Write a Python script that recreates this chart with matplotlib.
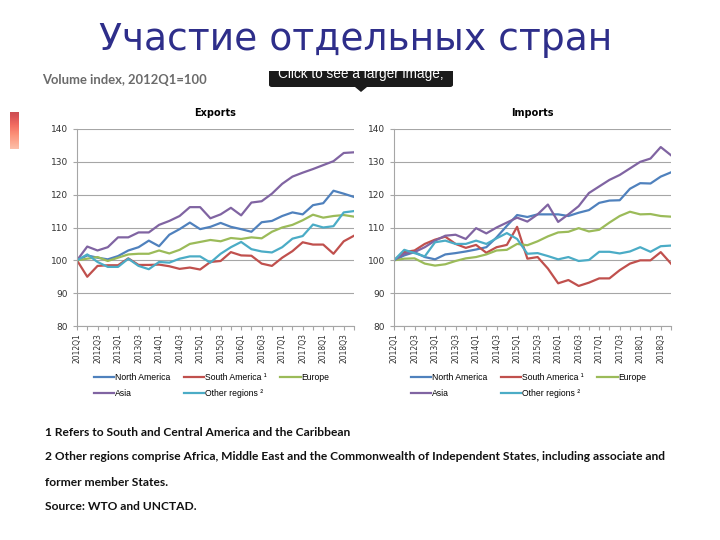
import numpy as np
import matplotlib.pyplot as plt
from matplotlib.patches import FancyBboxPatch, Polygon, Rectangle

# quarters 2012Q1 .. 2018Q4
quarters = [f"{y}Q{q}" for y in range(2012, 2019) for q in range(1, 5)]

regions = ["North America", "South America \u00b9", "Europe", "Asia", "Other regions \u00b2"]
colors = ["#4f81bd", "#c0504d", "#9bbb59", "#8064a2", "#4bacc6"]

# Exports
exp_na = [100, 101.5, 100.8, 100.3, 101.3, 103, 104, 106, 104.3, 107.8, 109.5, 111.5, 109.5, 110.2,
          111.4, 110.2, 109.5, 108.7, 111.6, 112, 113.5, 114.6, 114, 116.8, 117.4, 121.2, 120.3, 119.3]
exp_sa = [100, 95, 98.3, 98.5, 98.5, 100.6, 98.6, 98.6, 98.7, 98.2, 97.4, 97.8, 97.2, 99.5,
          99.8, 102.5, 101.5, 101.4, 99, 98.3, 100.8, 102.8, 105.5, 104.8, 104.8, 102, 105.8, 107.5]
exp_eu = [100, 100.5, 101, 99.8, 100.8, 101.8, 102, 102, 103, 102.1, 103.2, 105, 105.6, 106.2,
          105.8, 106.8, 106.5, 107, 106.7, 108.7, 110, 110.8, 112.2, 113.9, 113, 113.5, 113.8, 113.3]
exp_as = [100, 104.2, 103, 104, 107, 107, 108.5, 108.5, 110.8, 112, 113.5, 116.2, 116.2, 112.8,
          114, 116, 113.7, 117.6, 118, 120.3, 123.3, 125.5, 126.7, 127.8, 129, 130.2, 132.7, 132.9]
exp_ot = [100, 101.8, 99.5, 98, 98, 100.5, 98.3, 97.3, 99.5, 99.3, 100.5, 101.2, 101.2, 99.3,
          102, 104, 105.6, 103.4, 102.7, 102.4, 104, 106.6, 107.4, 110.9, 110, 110.4, 114.6, 115]

# Imports
imp_na = [100, 101.5, 102.5, 101, 100.3, 101.8, 102.2, 102.7, 103.3, 104, 107, 110.5, 113.8, 113.2,
          114, 114, 114, 113.5, 114.5, 115.3, 117.5, 118.2, 118.3, 121.8, 123.5, 123.4, 125.5, 126.8]
imp_sa = [100, 102.5, 103, 105, 106.3, 107.2, 105, 103.8, 104.7, 102.3, 104, 104.7, 110.2, 100.5,
          101, 97.5, 93, 94, 92.2, 93.2, 94.5, 94.5, 97, 99, 100, 100, 102.5, 99]
imp_eu = [100, 100.5, 100.6, 99, 98.4, 98.8, 99.8, 100.6, 101, 101.8, 103, 103.2, 105, 104.6,
          105.8, 107.3, 108.5, 108.7, 109.8, 108.8, 109.3, 111.5, 113.5, 114.8, 114, 114.1, 113.5, 113.3]
imp_as = [100, 102, 102.5, 104, 106, 107.5, 107.8, 106.5, 109.8, 108.2, 110, 111.5, 113, 111.8,
          114, 117, 111.7, 114, 116.5, 120.5, 122.5, 124.5, 126, 128, 130, 131, 134.5, 132]
imp_ot = [100, 103.2, 102.2, 101.2, 105.5, 106, 105, 105, 106, 105, 106.7, 108.3, 106.5, 102,
          102.2, 101.3, 100.3, 101, 99.8, 100.1, 102.6, 102.6, 102.1, 102.7, 104, 102.6, 104.3, 104.5]

exports = [exp_na, exp_sa, exp_eu, exp_as, exp_ot]
imports = [imp_na, imp_sa, imp_eu, imp_as, imp_ot]

fig = plt.figure(figsize=(7.2, 5.4), dpi=100)

fig.text(0.494, 0.926, "Участие отдельных стран", ha="center", va="center",
         fontsize=27.1, color="#2e2e8a", family="DejaVu Sans", zorder=5)
fig.text(0.058, 0.852, "Volume index, 2012Q1=100", ha="left", va="center",
         fontsize=9.4, color="#6b6b6b", weight="bold", family="Lato")

# tooltip box (top part hidden, as in the screenshot)
fig.patches.append(FancyBboxPatch((269 / 720, 1 - 87 / 540), 184 / 720, 19 / 540,
                                  boxstyle="round,pad=0,rounding_size=0.004",
                                  transform=fig.transFigure, fc="#1b1b1b", ec="none"))
fig.patches.append(Polygon([(355 / 720, 1 - 87 / 540), (367 / 720, 1 - 87 / 540), (361 / 720, 1 - 92 / 540)],
                           closed=True, transform=fig.transFigure, fc="#1b1b1b", ec="none"))
fig.text(361 / 720, 1 - 78 / 540, "Click to see a larger image;", ha="center", va="baseline",
         fontsize=9.8, color="white", family="Liberation Sans", zorder=3)
fig.patches.append(Rectangle((265 / 720, 1 - 70.5 / 540), 195 / 720, 10 / 540,
                             transform=fig.transFigure, fc="white", ec="none", zorder=4))

# faded red mark on the left
gax = fig.add_axes([10 / 720, 1 - 149 / 540, 9 / 720, 37 / 540])
grad = np.linspace(1, 0, 50).reshape(-1, 1)
gax.imshow(grad, aspect="auto", cmap="Reds", vmin=-0.6, vmax=1.4, alpha=0.75)
gax.axis("off")

x = np.arange(len(quarters))
panels = [("Exports", exports, 77), ("Imports", imports, 394)]
for title, series, left in panels:
    ax = fig.add_axes([left / 720, 1 - 326 / 540, 277 / 720, 197 / 540])
    lines = []
    for vals, c, name in zip(series, colors, regions):
        ln, = ax.plot(x, vals, color=c, lw=1.6, label=name)
        lines.append(ln)
    ax.set_xlim(0, len(quarters) - 1)
    ax.set_ylim(80, 140)
    ax.set_yticks(range(80, 141, 10))
    ax.yaxis.grid(True, color="#a6a6a6", lw=0.8)
    ax.set_axisbelow(True)
    for s in ["top", "right"]:
        ax.spines[s].set_visible(False)
    for s in ["left", "bottom"]:
        ax.spines[s].set_color("#a6a6a6")
    ax.set_xticks(x)
    ax.set_xticklabels([q if i % 2 == 0 else "" for i, q in enumerate(quarters)],
                       rotation=90, fontsize=5.5, color="#333333")
    ax.tick_params(axis="x", length=3, color="#a6a6a6", pad=2)
    ax.tick_params(axis="y", length=3, color="#a6a6a6", labelsize=6.5, labelcolor="#333333")
    ax.set_title(title, fontsize=7, weight="bold", pad=9)
    order = [0, 3, 1, 4, 2]
    ax.legend([lines[i] for i in order], [regions[i] for i in order], ncol=3,
              loc="upper left", bbox_to_anchor=(0.032, -0.2), frameon=False,
              handlelength=2.4, handletextpad=0.05, columnspacing=1.6, labelspacing=0.75,
              prop={"family": "Liberation Sans", "size": 6.2})

notes = [
    (432, "1 Refers to South and Central America and the Caribbean"),
    (456, "2 Other regions comprise Africa, Middle East and the Commonwealth of Independent States, including associate and"),
    (482, "former member States."),
    (506, "Source: WTO and UNCTAD."),
]
for ypix, txt in notes:
    fig.text(45 / 720, 1 - ypix / 540, txt, ha="left", va="center", fontsize=8.65,
             color="#111111", family="Lato", weight="bold")

fig.savefig("out.png", dpi=100)
